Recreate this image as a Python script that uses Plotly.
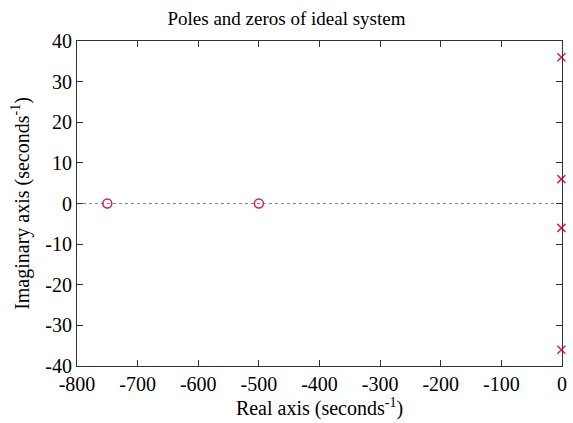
import plotly.graph_objects as go

zeros_re = [-750, -500]
zeros_im = [0, 0]
poles_re = [-1, -1, -1, -1]
poles_im = [36, 6, -6, -36]
x_ticks = [-800, -700, -600, -500, -400, -300, -200, -100, 0]
y_ticks = [-40, -30, -20, -10, 0, 10, 20, 30, 40]

col = "#e31c55"
font = "Liberation Serif, Times New Roman, serif"
txt = "#000000"

fig = go.Figure()
fig.add_trace(go.Scatter(x=[-800, 0], y=[0, 0], mode="lines",
                         line=dict(color="#888888", width=1, dash="dot"),
                         showlegend=False, hoverinfo="skip"))
fig.add_trace(go.Scatter(x=zeros_re, y=zeros_im, mode="markers",
                         marker=dict(symbol="circle-open", size=9, color=col, line=dict(width=1.5)),
                         showlegend=False, cliponaxis=False))
fig.add_trace(go.Scatter(x=poles_re, y=poles_im, mode="markers",
                         marker=dict(symbol="x-thin", size=8, color=col, line=dict(width=1.5, color=col)),
                         showlegend=False, cliponaxis=False))

axis_common = dict(showgrid=False, zeroline=False, showline=True, linecolor="#333333",
                   linewidth=1.2, mirror="ticks", ticks="inside", ticklen=6, tickcolor="#333333",
                   tickfont=dict(family=font, size=20, color=txt))
fig.update_layout(
    width=573, height=423,
    margin=dict(l=77, r=6, t=41, b=57),
    paper_bgcolor="white", plot_bgcolor="white",
    title=dict(text="Poles and zeros of ideal system", x=0.5, xanchor="center",
               y=1 - 18/423, yanchor="middle",
               font=dict(family=font, size=19, color=txt)),
    xaxis=dict(range=[-800, 0], tickvals=x_ticks, ticktext=[str(v) for v in x_ticks],
               title=dict(text="Real axis (seconds<sup>-1</sup>)", standoff=5,
                          font=dict(family=font, size=20, color=txt)),
               **axis_common),
    yaxis=dict(range=[-40, 40], tickvals=y_ticks, ticktext=[str(v) for v in y_ticks],
               title=dict(text="Imaginary axis (seconds<sup>-1</sup>)", standoff=10,
                          font=dict(family=font, size=20, color=txt)),
               **axis_common),
)
fig.write_html("out.html")
